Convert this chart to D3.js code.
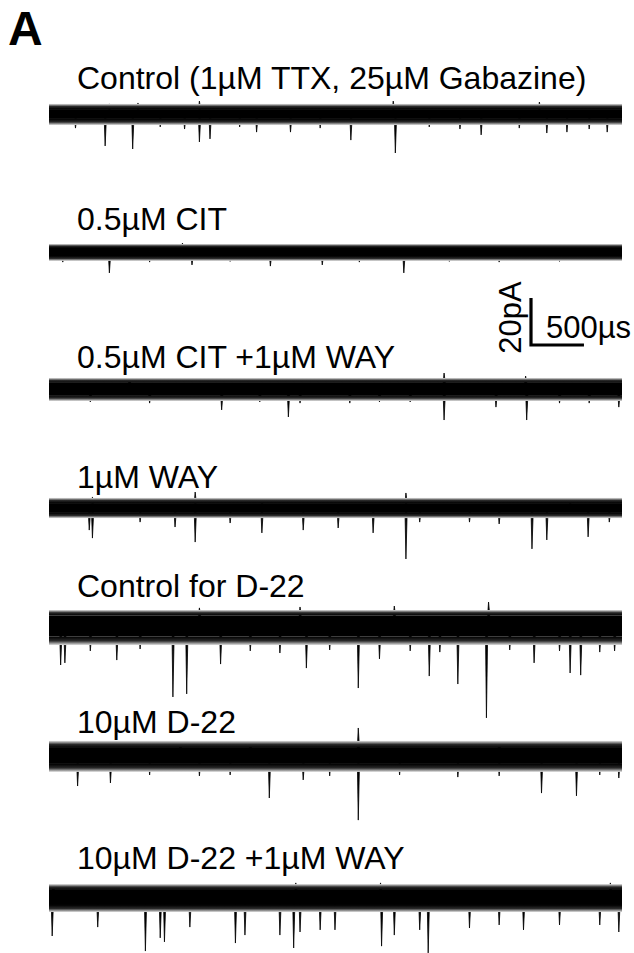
<!DOCTYPE html>
<html>
<head>
<meta charset="utf-8">
<script src="https://cdnjs.cloudflare.com/ajax/libs/d3/7.8.5/d3.min.js"></script>
<style>
  body { margin: 0; background: #fff; }
  text { font-family: "Liberation Sans", Arial, sans-serif; fill: #000; }
</style>
</head>
<body>
<div id="chart"></div>
<script>
// trace labels, top to bottom
var labels = [
  "Control (1\u00b5M TTX, 25\u00b5M Gabazine)",
  "0.5\u00b5M CIT",
  "0.5\u00b5M CIT +1\u00b5M WAY",
  "1\u00b5M WAY",
  "Control for D-22",
  "10\u00b5M D-22",
  "10\u00b5M D-22 +1\u00b5M WAY"
];

// noise band of each trace in pA: [low, high] for the dense core and the tips of the hairy edge
var noiseCore = [[-2.1, 2.1], [-1.7, 1.7], [-2.6, 2.6], [-2.1, 2.1], [-4.5, 4.5], [-3.8, 3.0], [-3.4, 3.0]];
var noiseEdge = [[-4.7, 4.3], [-3.8, 3.4], [-5.1, 4.7], [-4.3, 4.3], [-8.1, 6.8], [-7.2, 6.0], [-6.4, 5.5]];

// events: [time ms, amplitude pA] (negative = inward current)
var ctrlEvents = [
  [0.25, -6.0], [0.53, -13.6], [0.57, 4.3], [0.79, -14.9], [0.84, 4.7], [1.05, -5.5], [1.28, -6.4],
  [1.42, -11.9], [1.42, 5.5], [1.52, -10.6], [1.80, -5.5], [1.96, -7.7], [2.28, -7.7], [2.56, -6.0],
  [2.85, -11.1], [3.25, 5.5], [3.27, -16.6], [3.59, -5.5], [3.88, -6.4], [4.08, -8.9], [4.44, -6.0],
  [4.63, 5.1], [4.70, -8.1], [4.89, -7.7], [5.10, -6.4], [5.27, -7.7]
];
var citEvents = [
  [0.13, -4.3], [0.57, -8.9], [0.95, -4.3], [1.26, 3.8], [1.35, -5.5], [1.71, -4.0], [2.09, -6.0],
  [2.18, 3.0], [2.58, -5.5], [2.93, -4.3], [3.35, -8.9], [3.35, 3.0], [3.78, -4.0], [4.25, -4.3], [4.82, -4.0]
];
var citWayEvents = [
  [0.39, -5.5], [0.76, 4.3], [0.95, -6.0], [1.63, -8.9], [1.99, -5.5], [2.26, -11.9], [2.37, -6.0],
  [2.84, -6.0], [3.12, -5.5], [3.41, -5.5], [3.73, -13.2], [3.73, 6.8], [4.22, -7.7], [4.50, 5.5],
  [4.51, -13.2], [4.82, -6.0], [5.10, -6.0], [5.38, -7.7]
];
var wayEvents = [
  [0.38, -9.4], [0.41, -12.8], [0.41, 4.7], [0.86, -6.0], [1.19, -8.1], [1.38, -14.5], [1.38, 6.8],
  [1.71, -6.4], [2.01, -10.6], [2.01, 3.4], [2.40, -9.4], [2.73, -8.5], [3.06, -10.6], [3.37, -21.7],
  [3.37, 6.4], [3.50, -6.0], [3.97, -6.0], [4.25, -6.8], [4.56, -17.4], [4.70, -13.6], [4.92, 3.8],
  [5.09, -12.3], [5.29, -6.0]
];
var ctrlD22Events = [
  [0.11, -16.6], [0.15, -15.7], [0.39, -10.6], [0.64, -14.5], [0.86, -9.8], [1.17, -30.2], [1.30, -28.9],
  [1.42, 7.7], [1.62, -16.2], [1.90, -10.6], [2.18, -11.5], [2.37, 8.1], [2.43, -17.9], [2.65, -10.2],
  [2.92, -26.4], [3.12, -14.0], [3.26, 8.5], [3.41, -10.6], [3.59, -21.3], [3.69, -11.1], [3.86, -24.7],
  [4.13, -39.1], [4.15, 10.2], [4.35, -10.2], [4.58, -15.7], [4.82, -10.6], [4.92, -20.0], [5.02, -20.9],
  [5.20, -11.1], [5.34, -10.6]
];
var d22Events = [
  [0.27, -13.2], [0.58, -11.9], [0.95, -8.5], [1.24, 5.5], [1.42, -8.9], [1.71, -8.5], [1.90, 5.1],
  [2.08, -18.3], [2.40, -10.6], [2.65, -8.9], [2.92, -27.7], [2.92, 11.5], [3.31, -8.5], [3.86, -9.4],
  [4.25, -8.9], [4.25, 5.1], [4.65, -16.2], [4.98, -17.4], [5.20, -8.5], [5.38, -9.8]
];
var d22WayEvents = [
  [0.03, -16.6], [0.04, 4.7], [0.46, -12.8], [0.91, -23.0], [1.05, -17.4], [1.09, -19.1], [1.33, -12.8],
  [1.76, -19.6], [1.85, -16.2], [2.18, -16.2], [2.31, -21.7], [2.33, 6.0], [2.37, -14.9], [2.56, -14.0],
  [2.70, -14.0], [3.13, 6.0], [3.14, -20.9], [3.26, -16.2], [3.50, -14.0], [3.58, -23.8], [3.97, -13.2],
  [4.25, -11.9], [4.48, -14.0], [4.82, -11.9], [5.20, -11.9], [5.30, 6.0], [5.38, -14.9]
];
var events = [ctrlEvents, citEvents, citWayEvents, wayEvents, ctrlD22Events, d22Events, d22WayEvents];

var duration = 5.41;        // ms shown per sweep
var barTime = 0.5, barCurrent = 20;   // scale bar: 500 us, 20 pA

// layout
var svgWidth = 634, svgHeight = 953;
var traceCenter = [114, 252, 389, 508, 626, 755, 897];
var labelBase = [89, 230, 368, 488, 597, 733, 869];
var pxPerPA = 47 / 20;

var svg = d3.select("#chart").append("svg")
  .attr("width", svgWidth)
  .attr("height", svgHeight);

// fuzzy edges of the noise band: fade from black at the core to light grey at the hair tips
var defs = svg.append("defs");
var fadeUp = defs.append("linearGradient").attr("id", "fadeUp")
  .attr("x1", 0).attr("y1", 1).attr("x2", 0).attr("y2", 0);
fadeUp.append("stop").attr("offset", 0).attr("stop-color", "#000");
fadeUp.append("stop").attr("offset", 0.5).attr("stop-color", "#2a2a2a");
fadeUp.append("stop").attr("offset", 1).attr("stop-color", "#e0e0e0");
var fadeDown = defs.append("linearGradient").attr("id", "fadeDown")
  .attr("x1", 0).attr("y1", 0).attr("x2", 0).attr("y2", 1);
fadeDown.append("stop").attr("offset", 0).attr("stop-color", "#000");
fadeDown.append("stop").attr("offset", 0.5).attr("stop-color", "#2a2a2a");
fadeDown.append("stop").attr("offset", 1).attr("stop-color", "#e0e0e0");

svg.append("text")
  .attr("x", 8).attr("y", 45)
  .attr("font-size", 48).attr("font-weight", "bold")
  .text("A");

var x = d3.scaleLinear().domain([0, duration]).range([49, 622]);

labels.forEach(function(label, i) {
  var c = traceCenter[i];
  var y = d3.scaleLinear().domain([-1, 1]).range([c + pxPerPA, c - pxPerPA]);
  var g = svg.append("g").attr("class", "trace");

  g.append("text")
    .attr("x", 77).attr("y", labelBase[i])
    .attr("font-size", 32)
    .text(label);

  // events as thin spikes leaving the band
  g.selectAll("path.ev")
    .data(events[i])
    .enter()
    .append("path")
    .attr("class", "ev")
    .attr("d", function(d) {
      var base = d[1] < 0 ? y(noiseCore[i][0]) : y(noiseCore[i][1]);
      var xt = x(d[0]);
      return "M" + (xt - 0.9) + "," + base + "L" + xt + "," + y(d[1]) + "L" + (xt + 1.2) + "," + base + "Z";
    })
    .attr("fill", "#000")
    .attr("stroke", "#000")
    .attr("stroke-width", 0.8);

  // hairy upper and lower edges
  g.append("rect")
    .attr("x", x(0)).attr("width", x(duration) - x(0))
    .attr("y", y(noiseEdge[i][1]))
    .attr("height", y(noiseCore[i][1]) - y(noiseEdge[i][1]))
    .attr("fill", "url(#fadeUp)");
  g.append("rect")
    .attr("x", x(0)).attr("width", x(duration) - x(0))
    .attr("y", y(noiseCore[i][0]))
    .attr("height", y(noiseEdge[i][0]) - y(noiseCore[i][0]))
    .attr("fill", "url(#fadeDown)");

  // dense core
  g.append("rect")
    .attr("x", x(0)).attr("width", x(duration) - x(0))
    .attr("y", y(noiseCore[i][1]))
    .attr("height", y(noiseCore[i][0]) - y(noiseCore[i][1]))
    .attr("fill", "#000");
});

// scale bar
var barX = 531, barY = 345;
var ySc = d3.scaleLinear().domain([0, barCurrent]).range([barY, barY - barCurrent * pxPerPA]);
var barLen = x(barTime) - x(0);
svg.append("path")
  .attr("d", "M" + barX + "," + ySc(barCurrent) + "V" + ySc(0) + "H" + (barX + barLen))
  .attr("fill", "none")
  .attr("stroke", "#000")
  .attr("stroke-width", 3.2);

svg.append("text")
  .attr("transform", "translate(521," + (ySc(barCurrent / 2) - 4) + ") rotate(-90)")
  .attr("text-anchor", "middle")
  .attr("font-size", 31)
  .text(barCurrent + "pA");

svg.append("text")
  .attr("x", barX + 15).attr("y", 338)
  .attr("font-size", 31)
  .text("500\u00b5s");
</script>
</body>
</html>
